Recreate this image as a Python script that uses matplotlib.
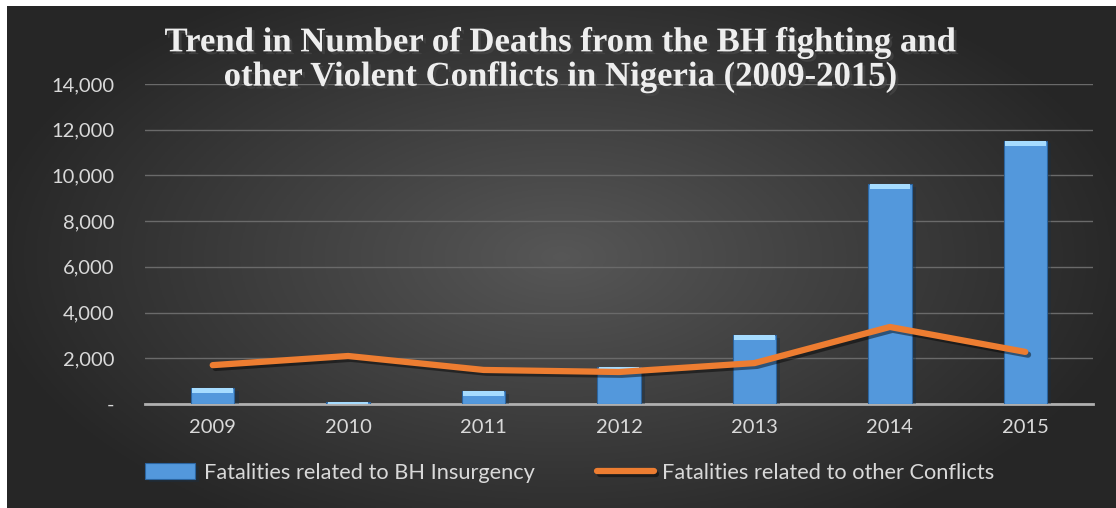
import numpy as np
import matplotlib
matplotlib.use('Agg')
import matplotlib.pyplot as plt
import matplotlib.patheffects as pe
from matplotlib.ticker import FuncFormatter

# data
years = ['2009', '2010', '2011', '2012', '2013', '2014', '2015']
bh_deaths = [700, 80, 570, 1620, 3020, 9630, 11520]
other_deaths = [1700, 2100, 1490, 1400, 1790, 3370, 2280]
y_ticks = [0, 2000, 4000, 6000, 8000, 10000, 12000, 14000]

title = ('Trend in Number of Deaths from the BH fighting and\n'
         'other Violent Conflicts in Nigeria (2009-2015)')
bar_label = 'Fatalities related to BH Insurgency'
line_label = 'Fatalities related to other Conflicts'

txt_color = '#d9d9d9'
W, H = 1116, 508

fig = plt.figure(figsize=(W / 100, H / 100), dpi=100, facecolor='white')

# dark radial gradient background
bg = fig.add_axes([7 / W, 0, 1 - 7 / W, 1 - 6 / H], zorder=0)
gx, gy = np.meshgrid(np.linspace(-1, 1, 400), np.linspace(-1, 1, 200))
r = np.sqrt((gx * 0.95) ** 2 + (gy * 0.8) ** 2)
shade = np.clip(0.34 - 0.19 * r, 0.15, 0.34)
bg.imshow(np.dstack([shade] * 3), aspect='auto', extent=[0, 1, 0, 1])
bg.set_axis_off()

ax = fig.add_axes([145 / W, 1 - 404 / H, 948 / W, 320 / H], zorder=1)
ax.set_facecolor('none')
x = np.arange(len(years))

shadow = [pe.SimpleLineShadow(offset=(2, -2), shadow_color='black', alpha=0.45), pe.Normal()]

bars = ax.bar(x, bh_deaths, width=0.32, color='#5398dc', edgecolor='#2c65a0',
              linewidth=0.8, zorder=3, label=bar_label)
for b in bars:
    b.set_path_effects([pe.SimplePatchShadow(offset=(3, -2), alpha=0.4), pe.Normal()])
# light bevel at the top of each bar
bevel = [min(v, 230) for v in bh_deaths]
ax.bar(x, bevel, bottom=np.array(bh_deaths) - np.array(bevel), width=0.30,
       color='#a6dcff', linewidth=0, zorder=4)

line, = ax.plot(x, other_deaths, color='#ed7d31', linewidth=4.5, solid_capstyle='round',
                solid_joinstyle='round', zorder=5, label=line_label)
line.set_path_effects(shadow)

ax.set_xlim(-0.5, len(years) - 0.5)
ax.set_ylim(0, 14000)
ax.set_yticks(y_ticks)
ax.set_xticks(x)
ax.set_xticklabels(years)
ax.yaxis.set_major_formatter(FuncFormatter(lambda v, p: '-' if v == 0 else f'{int(v):,}'))
ax.grid(axis='y', color='#6a6a6a', linewidth=1)
ax.set_axisbelow(True)
for s in ['top', 'right', 'left']:
    ax.spines[s].set_visible(False)
ax.spines['bottom'].set_color('#b0b0b0')
ax.spines['bottom'].set_linewidth(2)
ax.tick_params(axis='both', length=0, colors=txt_color, labelsize=14.5)
ax.tick_params(axis='y', pad=22)
ax.tick_params(axis='x', pad=11)
for lab in ax.get_xticklabels() + ax.get_yticklabels():
    lab.set_fontfamily('Lato')

fig.text(0.502, 1 - 60 / H, title, ha='center', va='center', fontsize=25,
         fontweight='bold', family='Liberation Serif', color='#eeeeee',
         linespacing=1.05,
         path_effects=[pe.withSimplePatchShadow(offset=(2, -2), alpha=0.7)])

leg_kw = dict(frameon=False, labelcolor=txt_color, prop={'family': 'Lato', 'size': 15.7},
              loc='center left', handletextpad=0.4, borderpad=0, borderaxespad=0)
l1 = fig.legend([bars], [bar_label], bbox_to_anchor=(145 / W, 1 - 473 / H),
                handlelength=2.3, handleheight=0.75, **leg_kw)
l2 = fig.legend([line], [line_label], bbox_to_anchor=(597 / W, 1 - 473 / H),
                handlelength=2.6, **leg_kw)

fig.savefig('out.png', dpi=100, facecolor='white')
